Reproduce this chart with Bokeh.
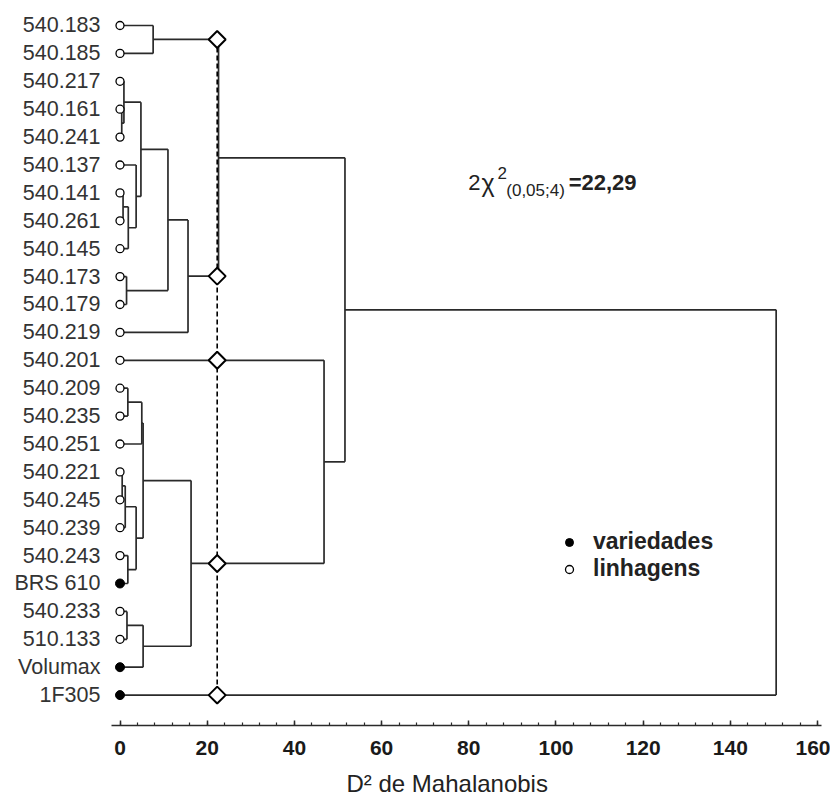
import numpy as np
from bokeh.plotting import figure
from bokeh.models import Range1d, FixedTicker, Label, Legend, LegendItem, Title
from bokeh.embed import file_html
from bokeh.resources import INLINE

# ---------------- data ----------------
leaf_names = ["540.183", "540.185", "540.217", "540.161", "540.241", "540.137",
              "540.141", "540.261", "540.145", "540.173", "540.179", "540.219",
              "540.201", "540.209", "540.235", "540.251", "540.221", "540.245",
              "540.239", "540.243", "BRS 610", "540.233", "510.133", "Volumax", "1F305"]
leaf_kind = ["linhagem"] * 20 + ["variedade"] + ["linhagem"] * 2 + ["variedade"] * 2

# merges (cluster id = 25 + index): child a, child b, D2 height
merge_a = [0, 3, 2, 6, 28, 5, 27, 9, 31, 33, 25, 13, 36, 16, 38, 19, 39, 37, 21, 43, 42, 12, 35, 47]
merge_b = [1, 4, 26, 7, 8, 29, 30, 10, 32, 11, 34, 14, 15, 17, 18, 20, 40, 41, 22, 23, 44, 45, 46, 24]
merge_h = [7.6, 0.4, 0.9, 0.7, 1.9, 3.7, 4.8, 1.5, 11.0, 15.6, 22.6, 1.8, 5.0, 0.5,
           1.2, 1.8, 3.7, 5.3, 1.6, 5.3, 16.3, 46.8, 51.6, 150.5]

cut_value = 22.29
x_ticks = [0, 20, 40, 60, 80, 100, 120, 140, 160]
x_minor = list(range(0, 161, 4))

# ---------------- dendrogram geometry ----------------
pos_y = [float(i) for i in range(len(leaf_names))]
pos_h = [0.0] * len(leaf_names)
x0, y0, x1, y1 = [], [], [], []
for a, b, h in zip(merge_a, merge_b, merge_h):
    ya, yb = pos_y[a], pos_y[b]
    x0 += [h, pos_h[a], pos_h[b]]
    y0 += [ya, ya, yb]
    x1 += [h, h, h]
    y1 += [yb, ya, yb]
    pos_y.append((ya + yb) / 2)
    pos_h.append(h)

dx, dy = [], []
for a, b, h in zip(merge_a, merge_b, merge_h):
    if h > cut_value:
        for c in (a, b):
            if pos_h[c] < cut_value:
                dx.append(cut_value)
                dy.append(pos_y[c])

# ---------------- figure ----------------
p = figure(width=830, height=807, output_backend="svg", toolbar_location=None,
           x_range=Range1d(-1.95, 160.9), y_range=Range1d(25.09, -0.609),
           min_border_left=111, min_border_right=9, min_border_top=8, min_border_bottom=82)
p.outline_line_color = None
p.grid.visible = False
p.background_fill_color = "white"

line_col = "#2a2a2a"
p.segment(x0=x0, y0=y0, x1=x1, y1=y1, line_color=line_col, line_width=1.7)
p.segment(x0=[cut_value], y0=[min(dy)], x1=[cut_value], y1=[max(dy)],
          line_color="black", line_width=1.6, line_dash="5 3")
p.scatter(x=dx, y=dy, marker="square", angle=np.pi / 4, size=12,
          fill_color="white", line_color="black", line_width=2)

lin_idx = [i for i, k in enumerate(leaf_kind) if k == "linhagem"]
var_idx = [i for i, k in enumerate(leaf_kind) if k == "variedade"]
r_open = p.scatter(x=[0] * len(lin_idx), y=lin_idx, marker="circle", size=8,
                   fill_color="white", line_color="black", line_width=1.3)
r_fill = p.scatter(x=[0] * len(var_idx), y=var_idx, marker="circle", size=9,
                   fill_color="black", line_color="black", line_width=1)

# x axis
xa = p.xaxis[0]
xa.ticker = FixedTicker(ticks=x_ticks, minor_ticks=x_minor)
xa.axis_line_color = line_col
xa.axis_line_width = 1.5
xa.major_tick_in = 5
xa.major_tick_out = 0
xa.minor_tick_in = 3
xa.minor_tick_out = 0
xa.major_tick_line_color = line_col
xa.major_tick_line_width = 1.5
xa.minor_tick_line_color = line_col
xa.minor_tick_line_width = 1.2
xa.major_label_text_font = "Liberation Sans"
xa.major_label_text_font_size = "21px"
xa.major_label_text_font_style = "bold"
xa.major_label_text_color = "#1a1a1a"
xa.major_label_standoff = 15

# axis title below the axis
p.add_layout(Title(text="D² de Mahalanobis", align="left", offset=235, standoff=20,
                   text_font="Liberation Sans", text_font_size="24px",
                   text_font_style="normal", text_color="#222222"), "below")

# y axis: leaf labels
ya_ = p.yaxis[0]
ya_.ticker = FixedTicker(ticks=list(range(len(leaf_names))))
ya_.major_label_overrides = {i: n for i, n in enumerate(leaf_names)}
ya_.axis_line_color = None
ya_.major_tick_line_color = None
ya_.minor_tick_line_color = None
ya_.major_tick_in = 0
ya_.major_tick_out = 0
ya_.major_label_standoff = 11
ya_.major_label_text_font = "Liberation Sans"
ya_.major_label_text_font_size = "21.5px"
ya_.major_label_text_color = "#333333"

# annotation 2χ²(0,05;4)=22,29
def lab(x, y, t, size, style="normal"):
    p.add_layout(Label(x=x, y=y, text=t, text_font="Liberation Sans", text_font_size=size,
                       text_font_style=style, text_color="#222222", text_baseline="alphabetic"))

lab(79.9, 5.63, "2", "22px")
lab(82.9, 5.63, "χ", "25px")
lab(86.6, 5.30, "2", "17px")
lab(88.6, 5.91, "(0,05;4)", "17px")
lab(102.9, 5.63, "=22,29", "22px", "bold")

# legend
legend = Legend(items=[LegendItem(label="variedades", renderers=[r_fill]),
                       LegendItem(label="linhagens", renderers=[r_open])],
                location=(448, 143), padding=0, margin=0, spacing=0,
                glyph_width=20, glyph_height=26, label_height=26, label_standoff=14,
                label_text_font="Liberation Sans", label_text_font_size="23px",
                label_text_font_style="bold", label_text_color="#222222",
                border_line_color=None, background_fill_alpha=0)
p.add_layout(legend)

open("out.html", "w").write(file_html(p, INLINE))
